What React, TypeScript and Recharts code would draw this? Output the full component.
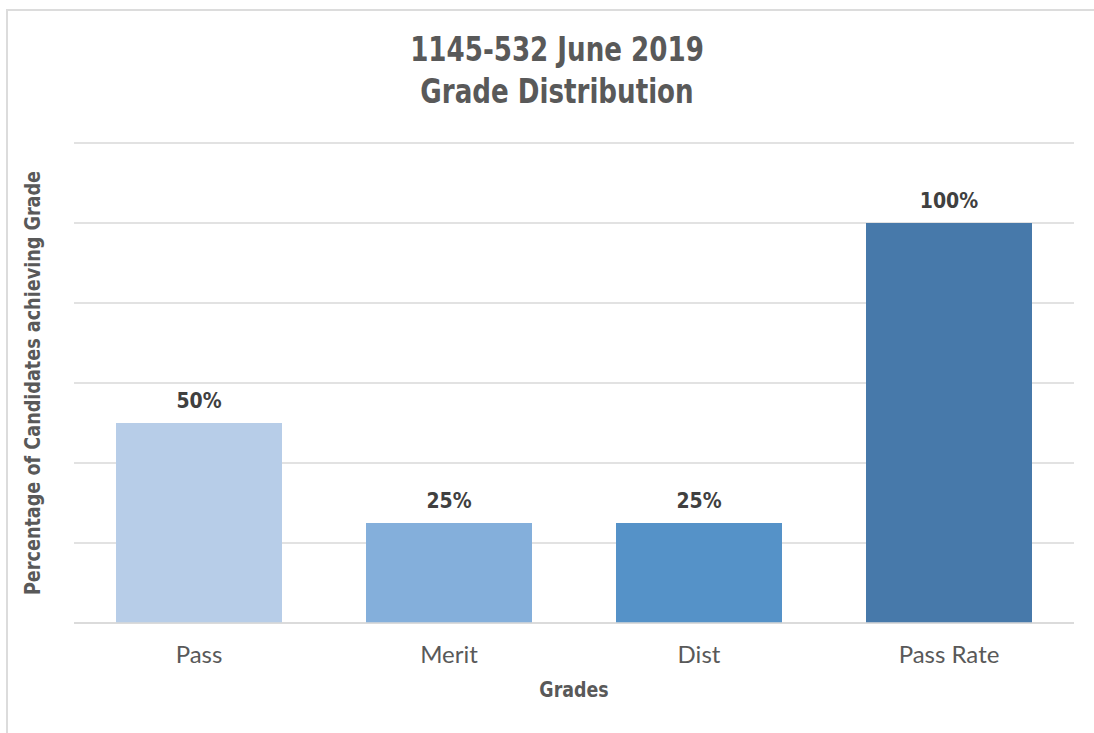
import React from 'react';
import { BarChart, Bar, XAxis, YAxis, CartesianGrid, LabelList, Cell } from 'recharts';

const grades = ['Pass', 'Merit', 'Dist', 'Pass Rate'];
const percentages = [50, 25, 25, 100];
const barColors = ['#b7cde8', '#84afdb', '#5592c8', '#4779aa'];
const yTicks = [0, 20, 40, 60, 80, 100, 120];

const data = grades.map((g, i) => ({ grade: g, value: percentages[i] }));

const boldFont = '"DejaVu Sans Condensed", "Liberation Sans Narrow", sans-serif';
const lightFont = 'Lato, "Open Sans", sans-serif';

const App: React.FC = () => {
  return (
    <div style={{ position: 'absolute', left: 0, top: 0, width: 1094, height: 733, overflow: 'hidden', background: '#fff' }}>
      {/* outer frame, only top/left edges are inside the viewport */}
      <div
        style={{
          position: 'absolute',
          left: 6,
          top: 9,
          width: 1200,
          height: 900,
          borderTop: '2px solid #dcdcdc',
          borderLeft: '2px solid #dcdcdc',
        }}
      />
      <div
        style={{
          position: 'absolute',
          left: 0,
          width: 1114,
          top: 29,
          textAlign: 'center',
          fontFamily: boldFont,
          fontWeight: 'bold',
          fontSize: 33,
          lineHeight: '42px',
          color: '#595959',
          transform: 'scaleX(0.88)',
        }}
      >
        1145-532 June 2019
        <br />
        Grade Distribution
      </div>
      <div style={{ position: 'absolute', left: 0, top: 0 }}>
        <BarChart
          width={1094}
          height={733}
          data={data}
          margin={{ top: 143, right: 20, bottom: 80, left: 74 }}
          barCategoryGap="16.8%"
        >
          <CartesianGrid vertical={false} stroke="#d9d9d9" strokeWidth={1.5} />
          <YAxis
            domain={[0, 120]}
            ticks={yTicks}
            width={0}
            tick={() => <g />}
            axisLine={false}
            tickLine={false}
          />
          <XAxis
            dataKey="grade"
            axisLine={{ stroke: '#d9d9d9', strokeWidth: 1.5 }}
            tickLine={false}
            tick={{ fill: '#595959', fontSize: 24, fontFamily: lightFont }}
            tickMargin={17}
          />
          <Bar dataKey="value" isAnimationActive={false}>
            {data.map((d, i) => (
              <Cell key={d.grade} fill={barColors[i]} />
            ))}
            <LabelList
              dataKey="value"
              position="top"
              offset={15}
              formatter={(v: any) => `${v}%`}
              style={{ fill: '#404040', fontSize: 21, fontWeight: 'bold', fontFamily: boldFont }}
            />
          </Bar>
        </BarChart>
      </div>
      <div
        style={{
          position: 'absolute',
          left: 474,
          width: 200,
          top: 677,
          textAlign: 'center',
          fontFamily: boldFont,
          fontWeight: 'bold',
          fontSize: 22,
          color: '#595959',
          transform: 'scaleX(0.88)',
        }}
      >
        Grades
      </div>
      <div
        style={{
          position: 'absolute',
          left: 32,
          top: 383,
          transform: 'translate(-50%, -50%) rotate(-90deg) scaleX(0.89)',
          whiteSpace: 'nowrap',
          fontFamily: boldFont,
          fontWeight: 'bold',
          fontSize: 22,
          color: '#595959',
        }}
      >
        Percentage of Candidates achieving Grade
      </div>
    </div>
  );
};

export default App;
